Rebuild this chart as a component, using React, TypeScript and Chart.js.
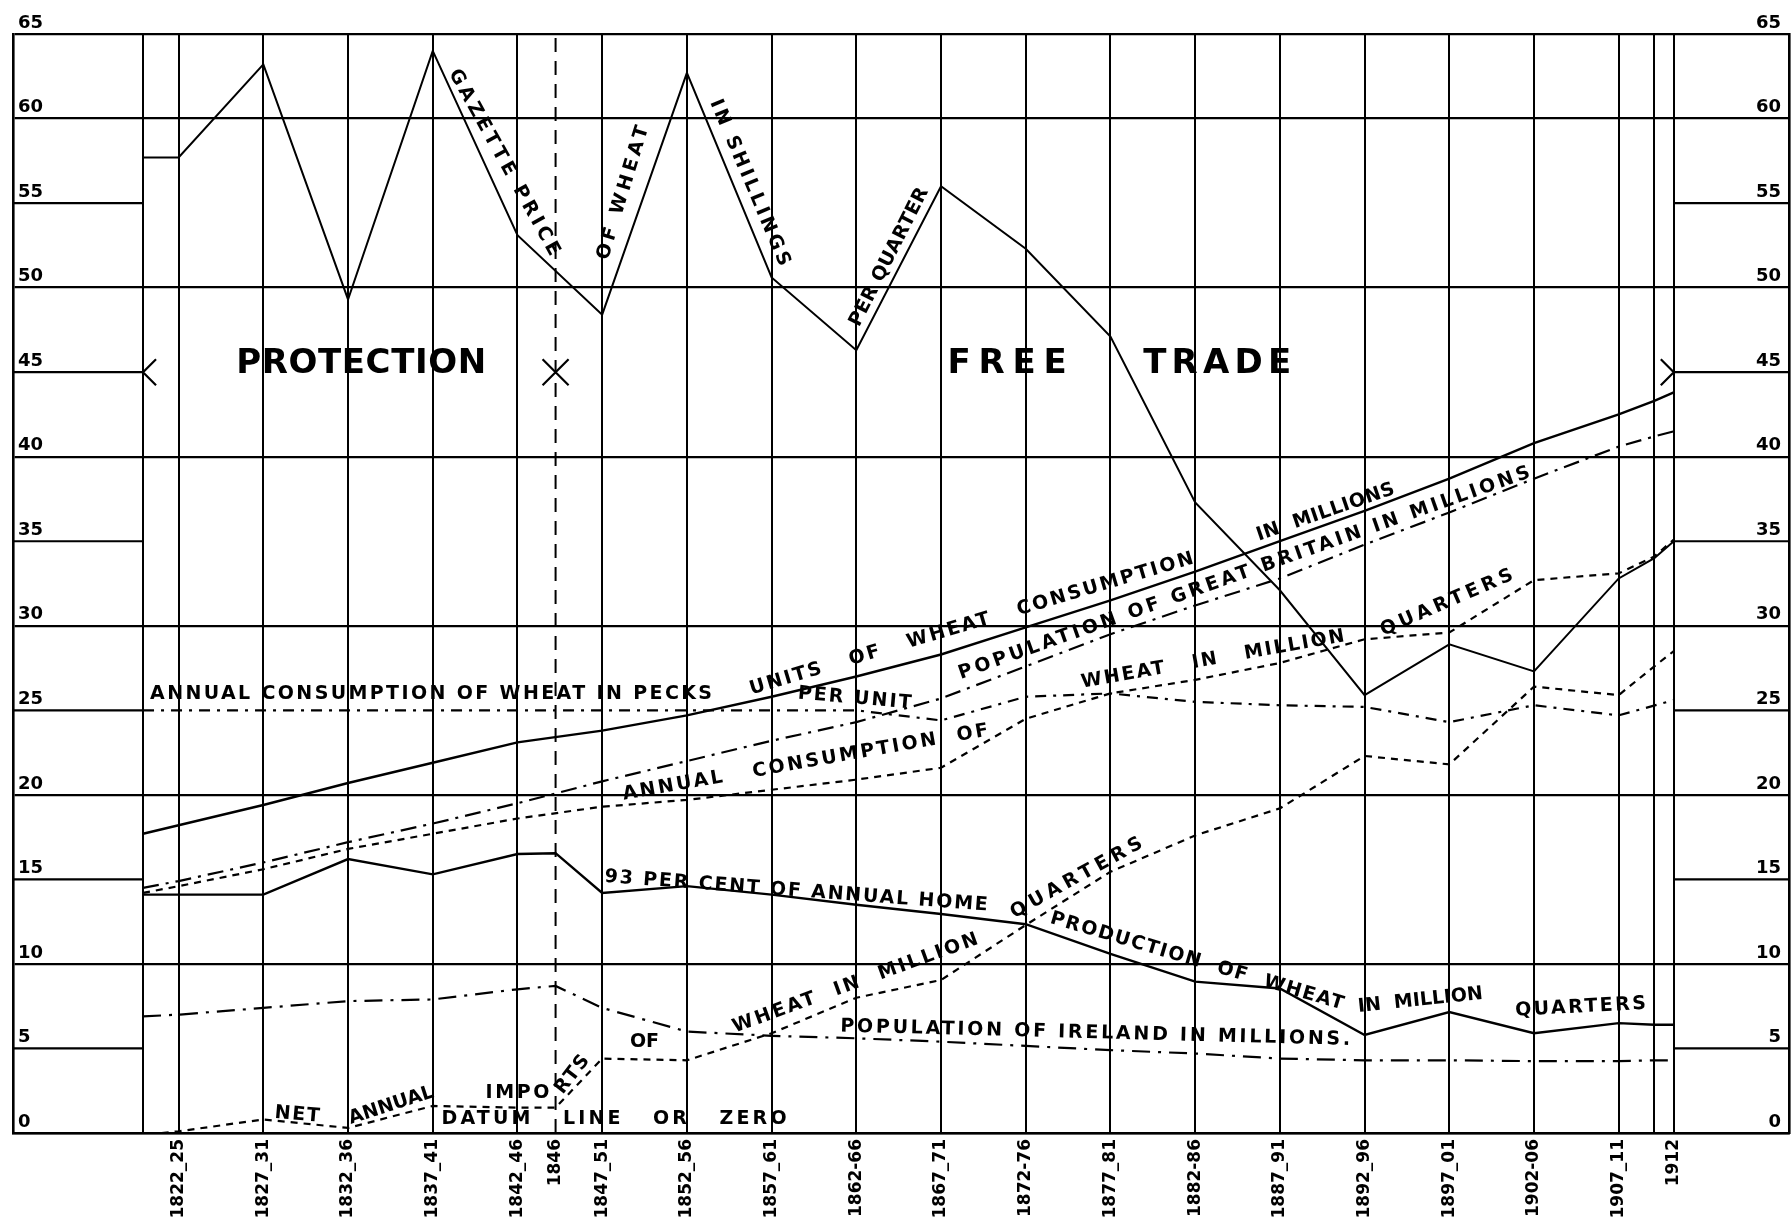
import React, { useEffect, useRef } from 'react';
import { Chart, registerables } from 'chart.js';

Chart.register(...registerables);

// ---- x positions (in 5-year period units; 0 = 1822-25) ----
const X_MIN = -1.955;
const X_MAX = 19.01;
const X_INNER_LEFT = -0.42;
const X_1846 = 4.45;
const X_EXTRA = 17.42;
const X_INNER_RIGHT = 17.65;

const tickPositions = [X_INNER_LEFT, 0, 1, 2, 3, 4, X_1846, 5, 6, 7, 8, 9, 10, 11, 12, 13, 14, 15, 16, 17, X_EXTRA, X_INNER_RIGHT];
const tickLabels = ['', '1822_25', '1827_31', '1832_36', '1837_41', '1842_46', '1846', '1847_51', '1852_56', '1857_61', '1862-66', '1867_71', '1872-76', '1877_81', '1882-86', '1887_91', '1892_96', '1897_01', '1902-06', '1907_11', '', '1912'];

// ---- y axis ----
const yTicksMajor = [0, 10, 20, 30, 40, 50, 60, 65];
const yTicksMargin = [5, 15, 25, 35, 45, 55];

// ---- series x arrays ----
const xMain = [X_INNER_LEFT, 0, 1, 2, 3, 4, 5, 6, 7, 8, 9, 10, 11, 12, 13, 14, 15, 16, 17, X_EXTRA, X_INNER_RIGHT];
const xWith1846 = [X_INNER_LEFT, 0, 1, 2, 3, 4, X_1846, 5, 6, 7, 8, 9, 10, 11, 12, 13, 14, 15, 16, 17, X_EXTRA, X_INNER_RIGHT];
const xPecks = [X_INNER_LEFT, 0, 1, 2, 3, 4, 5, 6, 7, 8, 9, 10, 11, 12, 13, 14, 15, 16, 17, X_INNER_RIGHT];
const xImports = [-0.2, 0, 1, 2, 3, 4, X_1846, 5, 6, 7, 8, 9, 10, 11, 12, 13, 14, 15, 16, 17, X_EXTRA, X_INNER_RIGHT];

// ---- series values ----
const gazettePrice = [57.7, 57.7, 63.2, 49.3, 64.0, 53.1, 48.4, 62.7, 50.6, 46.3, 56.0, 52.3, 47.1, 37.3, 32.1, 25.9, 28.9, 27.3, 32.8, 34.0, 35.0];
const unitsConsumption = [17.7, 18.2, 19.4, 20.7, 21.9, 23.1, 23.8, 24.7, 25.8, 27.0, 28.3, 29.9, 31.5, 33.2, 35.0, 36.8, 38.7, 40.8, 42.5, 43.3, 43.8];
const consumptionQuarters = [14.2, 14.6, 15.6, 16.8, 17.7, 18.6, 19.3, 19.7, 20.3, 20.9, 21.6, 24.5, 26.0, 26.8, 27.8, 29.2, 29.6, 32.7, 33.1, 34.1, 35.1];
const popGreatBritain = [14.5, 14.9, 16.0, 17.2, 18.3, 19.5, 20.8, 22.0, 23.2, 24.3, 25.7, 27.6, 29.5, 31.2, 32.8, 34.8, 36.7, 38.7, 40.6, 41.2, 41.5];
const peckConsumption = [25.0, 25.0, 25.0, 25.0, 25.0, 25.0, 25.0, 25.0, 25.0, 25.0, 24.4, 25.8, 26.0, 25.5, 25.3, 25.2, 24.3, 25.3, 24.7, 25.6];
const homeProduction = [14.1, 14.1, 14.1, 16.2, 15.3, 16.5, 16.55, 14.2, 14.6, 14.1, 13.5, 12.95, 12.35, 10.6, 8.95, 8.55, 5.8, 7.15, 5.9, 6.5, 6.4, 6.4];
const popIreland = [6.9, 7.0, 7.4, 7.8, 7.9, 8.5, 8.7, 7.4, 6.0, 5.75, 5.6, 5.4, 5.15, 4.9, 4.7, 4.4, 4.3, 4.3, 4.25, 4.25, 4.3, 4.3];
const netImports = [0.0, 0.1, 0.8, 0.3, 1.6, 1.5, 1.5, 4.4, 4.3, 5.9, 8.0, 9.05, 12.3, 15.45, 17.6, 19.2, 22.3, 21.8, 26.4, 25.9, 27.6, 28.5];

// ---- lettering on the chart (data coordinates, length in px along baseline) ----
const annotations = [
  { text: 'PROTECTION', x: 2.155, y: 45.5, angle: 0, size: 34, len: 250 },
  { text: 'FREE', x: 9.78, y: 45.5, angle: 0, size: 34, len: 119 },
  { text: 'TRADE', x: 12.26, y: 45.5, angle: 0, size: 34, len: 148 },
  { text: 'GAZETTE PRICE', x: 3.84, y: 57.4, angle: 61, size: 19, len: 210 },
  { text: 'OF WHEAT', x: 5.25, y: 55.6, angle: -73, size: 19, len: 139 },
  { text: 'IN SHILLINGS', x: 6.74, y: 56.2, angle: 67, size: 19, len: 179 },
  { text: 'PER QUARTER', x: 8.39, y: 51.8, angle: -63, size: 19, len: 153 },
  { text: 'ANNUAL CONSUMPTION OF WHEAT IN PECKS', x: 2.98, y: 25.95, angle: 0, size: 19, len: 562 },
  { text: 'UNITS   OF   WHEAT   CONSUMPTION', x: 9.36, y: 30.1, angle: -16.5, size: 19, len: 462 },
  { text: 'IN  MILLIONS', x: 13.54, y: 36.7, angle: -19, size: 19, len: 145 },
  { text: 'PER UNIT', x: 7.98, y: 25.7, angle: 5, size: 19, len: 114 },
  { text: 'POPULATION OF GREAT BRITAIN IN MILLIONS', x: 12.58, y: 33.1, angle: -19.5, size: 19, len: 605 },
  { text: 'ANNUAL   CONSUMPTION  OF', x: 7.4, y: 21.9, angle: -10, size: 19, len: 371 },
  { text: 'WHEAT   IN   MILLION', x: 12.21, y: 28.0, angle: -10, size: 19, len: 267 },
  { text: 'QUARTERS', x: 14.97, y: 31.35, angle: -23.5, size: 19, len: 143 },
  { text: '93 PER CENT OF ANNUAL HOME', x: 7.29, y: 14.3, angle: 4.3, size: 19, len: 384 },
  { text: 'PRODUCTION  OF  WHEAT', x: 12.02, y: 10.15, angle: 16.5, size: 19, len: 305 },
  { text: 'IN  MILLION', x: 14.66, y: 7.84, angle: -6, size: 19, len: 112 },
  { text: 'QUARTERS', x: 16.55, y: 7.43, angle: -3, size: 19, len: 131 },
  { text: 'QUARTERS', x: 10.6, y: 15.07, angle: -29, size: 19, len: 148 },
  { text: 'WHEAT  IN  MILLION', x: 7.99, y: 8.85, angle: -20, size: 19, len: 260 },
  { text: 'OF', x: 5.5, y: 5.4, angle: 0, size: 19, len: 29 },
  { text: 'NET', x: 1.4, y: 1.08, angle: 5, size: 19, len: 45 },
  { text: 'ANNUAL', x: 2.51, y: 1.62, angle: -18, size: 19, len: 79 },
  { text: 'IMPO', x: 4.0, y: 2.36, angle: 0, size: 19, len: 64 },
  { text: 'RTS', x: 4.65, y: 3.45, angle: -52, size: 19, len: 44 },
  { text: 'DATUM   LINE   OR   ZERO', x: 5.14, y: 0.8, angle: 0, size: 19, len: 345 },
  { text: 'POPULATION OF IRELAND IN MILLIONS.', x: 10.82, y: 5.9, angle: 1.5, size: 19, len: 510 },
];

const FONT = '"DejaVu Sans", "Liberation Sans", sans-serif';

const line = (xs: number[], ys: number[], dash: number[], width: number) => ({
  data: xs.map((x, i) => ({ x, y: ys[i] })),
  borderColor: '#000',
  backgroundColor: '#000',
  borderWidth: width,
  borderDash: dash,
  pointRadius: 0,
  pointHoverRadius: 0,
  fill: false,
  tension: 0,
});

const overlayPlugin = {
  id: 'overlay',
  beforeDatasetsDraw(chart: any) {
    const { ctx, scales } = chart;
    const x = scales.x;
    const y = scales.y;
    ctx.save();
    ctx.strokeStyle = '#000';
    ctx.lineWidth = 2.2;
    for (const v of yTicksMargin) {
      const py = y.getPixelForValue(v);
      ctx.beginPath();
      ctx.moveTo(x.getPixelForValue(X_MIN), py);
      ctx.lineTo(x.getPixelForValue(X_INNER_LEFT), py);
      ctx.moveTo(x.getPixelForValue(X_INNER_RIGHT), py);
      ctx.lineTo(x.getPixelForValue(X_MAX), py);
      ctx.stroke();
    }
    ctx.restore();
  },
  afterDatasetsDraw(chart: any) {
    const { ctx, scales } = chart;
    const x = scales.x;
    const y = scales.y;
    ctx.save();
    // boundary marks at 45
    const py = y.getPixelForValue(45);
    const s = 13;
    ctx.strokeStyle = '#000';
    ctx.lineWidth = 2.2;
    const lx = x.getPixelForValue(X_INNER_LEFT);
    const rx = x.getPixelForValue(X_INNER_RIGHT);
    const mx = x.getPixelForValue(X_1846);
    ctx.beginPath();
    ctx.moveTo(lx + s, py - s); ctx.lineTo(lx, py); ctx.lineTo(lx + s, py + s);
    ctx.moveTo(rx - s, py - s); ctx.lineTo(rx, py); ctx.lineTo(rx - s, py + s);
    ctx.moveTo(mx - s, py - s); ctx.lineTo(mx + s, py + s);
    ctx.moveTo(mx - s, py + s); ctx.lineTo(mx + s, py - s);
    ctx.stroke();
    // lettering
    ctx.fillStyle = '#000';
    ctx.textAlign = 'center';
    ctx.textBaseline = 'middle';
    for (const a of annotations) {
      ctx.save();
      ctx.translate(x.getPixelForValue(a.x), y.getPixelForValue(a.y));
      ctx.rotate((a.angle * Math.PI) / 180);
      ctx.font = `bold ${a.size}px ${FONT}`;
      let sp = 0;
      try {
        (ctx as any).letterSpacing = '0px';
        const w = ctx.measureText(a.text).width;
        sp = Math.max(0, (a.len - w) / Math.max(1, a.text.length - 1));
        (ctx as any).letterSpacing = `${sp}px`;
      } catch (e) { sp = 0; }
      ctx.fillText(a.text, sp / 2, 0);
      ctx.restore();
    }
    ctx.restore();
  },
};

export default function App() {
  const ref = useRef<HTMLCanvasElement | null>(null);
  useEffect(() => {
    if (!ref.current) return;
    Chart.defaults.font.family = FONT;
    const chart = new Chart(ref.current, {
      type: 'line',
      data: {
        datasets: [
          line(xMain, gazettePrice, [], 2),
          line(xMain, unitsConsumption, [], 2.4),
          line(xMain, consumptionQuarters, [7, 6], 2.2),
          line(xMain, popGreatBritain, [16, 7, 3, 7], 2.2),
          line(xPecks, peckConsumption, [11, 7, 3, 7], 2.2),
          line(xWith1846, homeProduction, [], 2.4),
          line(xWith1846, popIreland, [18, 8, 3, 8], 2.2),
          line(xImports, netImports, [7, 6], 2.2),
          line([X_1846, X_1846], [0, 65], [14, 9], 2),
        ] as any,
      },
      options: {
        animation: false,
        responsive: false,
        devicePixelRatio: 1,
        layout: { padding: { left: 13, right: 2, top: 34, bottom: 0 } },
        plugins: { legend: { display: false }, tooltip: { enabled: false } },
        events: [],
        scales: {
          x: {
            type: 'linear',
            min: X_MIN,
            max: X_MAX,
            afterBuildTicks: (scale: any) => {
              scale.ticks = tickPositions.map((v) => ({ value: v }));
            },
            afterFit: (scale: any) => {
              scale.height = 88;
            },
            ticks: {
              autoSkip: false,
              minRotation: 90,
              maxRotation: 90,
              padding: 6,
              color: '#000',
              font: { size: 17, family: FONT, weight: 'bold' },
              callback: (_v: any, i: number) => tickLabels[i],
            },
            grid: {
              drawTicks: false,
              lineWidth: 2,
              color: (c: any) => (c.tick && c.tick.value === X_1846 ? 'rgba(0,0,0,0)' : '#000'),
            },
            border: { display: true, color: '#000', width: 2.6 },
          },
          y: {
            type: 'linear',
            position: 'left',
            min: 0,
            max: 65,
            afterFit: (scale: any) => {
              scale.width = 0;
            },
            ticks: {
              stepSize: 5,
              mirror: true,
              padding: 5,
              labelOffset: -11,
              color: '#000',
              font: { size: 18, family: FONT, weight: 'bold' },
            },
            grid: {
              drawTicks: false,
              lineWidth: 2.3,
              color: (c: any) => (c.tick && yTicksMajor.includes(c.tick.value) ? '#000' : 'rgba(0,0,0,0)'),
            },
            border: { display: true, color: '#000', width: 2.6 },
          },
          y2: {
            type: 'linear',
            position: 'right',
            min: 0,
            max: 65,
            afterFit: (scale: any) => {
              scale.width = 0;
            },
            ticks: {
              stepSize: 5,
              mirror: true,
              padding: -8,
              labelOffset: -11,
              color: '#000',
              font: { size: 18, family: FONT, weight: 'bold' },
            },
            grid: { display: true, drawOnChartArea: false, drawTicks: false },
            border: { display: true, color: '#000', width: 2.6 },
          },
        },
      } as any,
      plugins: [overlayPlugin],
    });
    return () => chart.destroy();
  }, []);

  return (
    <div style={{ position: 'absolute', left: 0, top: 0, width: 1791, height: 1221, background: '#fff' }}>
      <canvas ref={ref} width={1791} height={1221} style={{ display: 'block' }} />
    </div>
  );
}
